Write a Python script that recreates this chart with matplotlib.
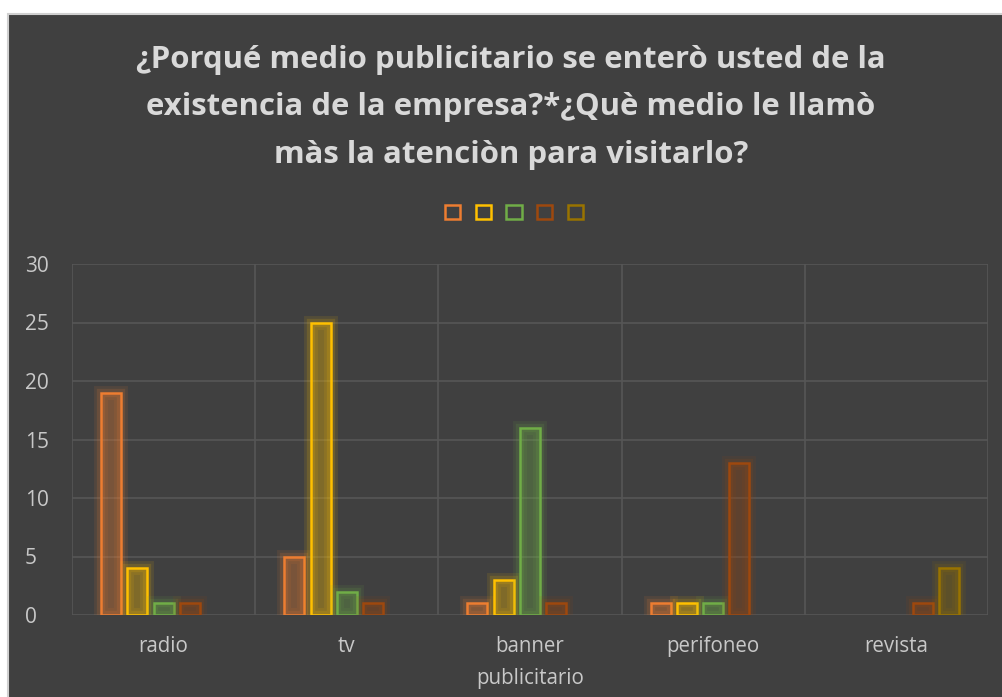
import matplotlib
matplotlib.use("Agg")
import matplotlib.pyplot as plt
import matplotlib.patheffects as pe
from matplotlib.patches import Rectangle, Patch
import numpy as np

categories = ["radio", "tv", "banner\npublicitario", "perifoneo", "revista"]
series1 = [19, 5, 1, 1, 0]
series2 = [4, 25, 3, 1, 0]
series3 = [1, 2, 16, 1, 0]
series4 = [1, 1, 1, 13, 1]
series5 = [0, 0, 0, 0, 4]
colors = ["#ED7D31", "#FFC000", "#70AD47", "#9E480E", "#997300"]
title_lines = ["¿Porqué medio publicitario se enterò usted de la",
               "existencia de la empresa?*¿Què medio le llamò",
               "màs la atenciòn para visitarlo?"]
yticks = [0, 5, 10, 15, 20, 25, 30]

plt.rcParams['font.family'] = ['Open Sans', 'DejaVu Sans']

W, H = 1003, 697
fig = plt.figure(figsize=(W / 100, H / 100), dpi=100)
fig.patch.set_facecolor("white")
bg = Rectangle((8 / W, -0.01), 1.0, 1 - 14 / H + 0.01, transform=fig.transFigure,
               facecolor="#404040", edgecolor="#d0d0d0", linewidth=1.5, zorder=-10)
fig.add_artist(bg)

ax = fig.add_axes([72 / W, 1 - 615 / H, (988 - 72) / W, (615 - 264) / H])
ax.set_facecolor("none")

allseries = [series1, series2, series3, series4, series5]
x = np.arange(len(categories))
n = len(allseries)
step = 26.3 / 183.3
width = 20 / 183.3
for i, (vals, c) in enumerate(zip(allseries, colors)):
    offs = (i - (n - 1) / 2) * step
    bars = ax.bar(x + offs, vals, width=width, facecolor=matplotlib.colors.to_rgba(c, 0.13),
                  edgecolor=c, linewidth=1.8, zorder=3)
    for b, v in zip(bars, vals):
        if v == 0:
            b.set_visible(False)
        b.set_path_effects([
            pe.Stroke(linewidth=10, foreground=c, alpha=0.10),
            pe.Stroke(linewidth=6, foreground=c, alpha=0.15),
            pe.Normal(),
        ])

ax.set_xlim(-0.5, len(categories) - 0.5)
ax.set_ylim(0, 30)
ax.set_yticks(yticks)
ax.set_xticks(x)
ax.set_xticklabels(categories, color="#c8c8c8", fontsize=14.8, linespacing=1.7)
ax.set_xticks(np.arange(len(categories) + 1) - 0.5, minor=True)
ax.tick_params(axis="both", which="both", length=0)
ax.tick_params(axis="y", colors="#c8c8c8", labelsize=15)
ax.tick_params(axis="x", pad=15)
for lbl in ax.get_yticklabels():
    lbl.set_horizontalalignment("left")
ax.yaxis.set_tick_params(pad=34)
ax.grid(axis="y", which="major", color="#565656", linewidth=1.2, zorder=0)
ax.grid(axis="x", which="minor", color="#565656", linewidth=1.2, zorder=0)
ax.grid(axis="x", which="major", visible=False)
for s in ax.spines.values():
    s.set_visible(False)

for k, line in enumerate(title_lines):
    fig.text(511 / W, 1 - (60 + 47.5 * k) / H, line, ha="center", va="center", fontsize=22.4,
             fontweight="bold", color="#d9d9d9")

handles = [Patch(facecolor="none", edgecolor=c, linewidth=1.8) for c in colors]
leg = fig.legend(handles, [""] * 5, loc="center", bbox_to_anchor=(514 / W, 1 - 213 / H),
                 ncol=5, frameon=False, handlelength=0.85, handleheight=0.85,
                 handletextpad=0, columnspacing=0.85, fontsize=13)

fig.savefig("out.png", dpi=100, facecolor=fig.get_facecolor())
